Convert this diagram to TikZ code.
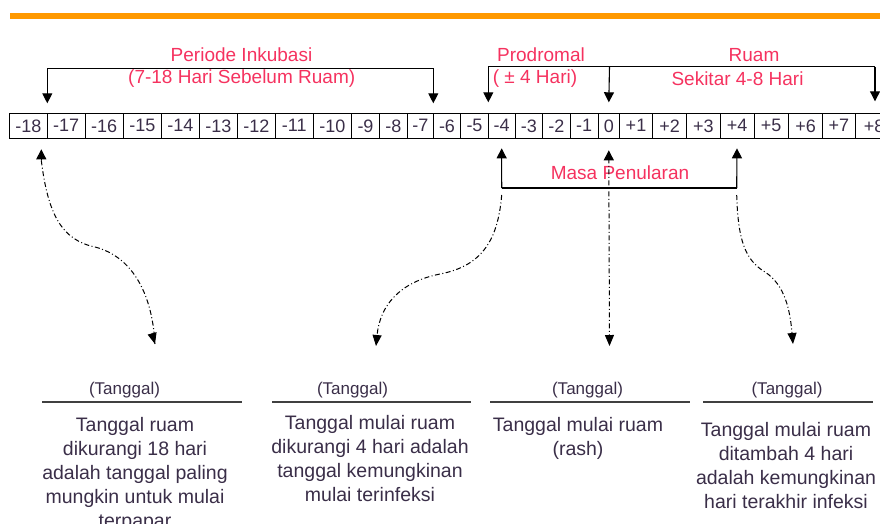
\documentclass[tikz,border=0pt]{standalone}
\usepackage{fontspec}
\setmainfont{Liberation Sans}
\usetikzlibrary{arrows.meta}
\definecolor{lblred}{HTML}{F5325F}
\definecolor{barorange}{HTML}{FF9900}
\definecolor{txt}{HTML}{3A2E48}
\tikzset{
  cellbox/.style={draw=black, line width=0.9pt, minimum height=25pt, inner sep=0pt, outer sep=0pt, text=txt, font=\fontsize{18}{18}\selectfont},
  redlbl/.style={text=lblred, inner sep=0pt, font=\fontsize{19}{19}\selectfont},
  brk/.style={draw=black, line width=1.1pt},
  arr/.style={brk, -{Triangle[width=10pt,length=10pt]}},
  dd/.style={draw=black, line width=1pt, dash pattern=on 5pt off 2.5pt on 1pt off 2.5pt},
  ddarr/.style={dd, -{Triangle[width=9pt,length=11pt]}},
  tgl/.style={text=txt, inner sep=0pt, font=\fontsize{17}{17}\selectfont},
  body/.style={text=txt, inner sep=0pt, anchor=north, align=center, font=\fontsize{19.5}{24}\selectfont},
  uline/.style={draw=black!75, line width=1.3pt},
}
\begin{document}
\begin{tikzpicture}[x=1pt,y=-1pt]
\useasboundingbox (0,0) rectangle (880,523);
% orange bar
\fill[barorange] (10,13) rectangle (890,19);
% cells
\foreach \i/\lab/\a/\b in {
 1/-18/9.3/47.3, 2/-17/47.3/85, 3/-16/85/123.3, 4/-15/123.3/161.7,
 5/-14/161.7/199.3, 6/-13/199.3/237.3, 7/-12/237.3/275.3, 8/-11/275.3/313.3,
 9/-10/313.3/351.7, 10/-9/351.7/379.3, 11/-8/379.3/407.3, 12/-7/407.3/433.3,
 13/-6/433.3/460.7, 14/-5/460.7/488.3, 15/-4/488.3/515, 16/-3/515/542.7,
 17/-2/542.7/570, 18/-1/570/598.3, 19/0/598.3/619.3, 20/+1/619.3/652.7,
 21/+2/652.7/686.7, 22/+3/686.7/720, 23/+4/720/754, 24/+5/754/788.3,
 25/+6/788.3/822.7, 26/+7/822.7/855, 27/+8/855/893}
 \node[cellbox, minimum width={(\b-\a)*1pt}] (c\i) at ({(\a+\b)/2},125.8) {\lab};
% top labels
\node[redlbl] (inkA) at (241.5,55) {Periode Inkubasi};
\node[redlbl] (inkB) at (241.7,79) {(7-18 Hari Sebelum Ruam)};
\node[redlbl] (proA) at (541,55) {Prodromal};
\node[redlbl] (proB) at (535,79) {( ± 4 Hari)};
\node[redlbl] (ruA) at (754,55) {Ruam};
\node[redlbl] (ruB) at (737.5,79) {Sekitar 4-8 Hari};
% incubation bracket
\coordinate (inkL) at (47.3,68.3);
\coordinate (inkR) at (433.3,68.3);
\draw[brk] (inkL) -- (inkR);
\draw[arr] (inkL) -- ([yshift=10pt]c1.north east);
\draw[arr] (inkR) -- ([yshift=10pt]c12.north east);
% prodromal / ruam bracket
\coordinate (proL) at (488.3,66.7);
\coordinate (proM) at (609.5,66.7);
\coordinate (proR) at (875,66.7);
\draw[brk] (proL) -- (proR);
\draw[arr] (proL) -- ([yshift=11pt]c14.north east);
\draw[arr] (proM) -- ([yshift=11pt]c19.north);
\draw[arr] (proR) -- ([yshift=12pt]c27.north -| proR);
% masa penularan bracket
\coordinate (mpL) at (501.7,188);
\coordinate (mpR) at (736.7,188);
\draw[brk] (mpL) -- (mpR);
\draw[arr] (mpL) -- ([yshift=-10pt]c15.south);
\draw[arr] (mpR) -- ([yshift=-10pt]c23.south);
\node[redlbl] (mp) at (620,173) {Masa Penularan};
% bottom labels
\node[tgl] (t1) at (124.5,390) {(Tanggal)};
\node[tgl] (t2) at (352.5,390) {(Tanggal)};
\node[tgl] (t3) at (587.5,390) {(Tanggal)};
\node[tgl] (t4) at (787,390) {(Tanggal)};
\draw[uline] (42,402) -- (242,402);
\draw[uline] (272,402) -- (471,402);
\draw[uline] (490,402) -- (690,402);
\draw[uline] (703,402) -- (873,402);
\node[body] (b1) at (135,416.7) {Tanggal ruam\\dikurangi 18 hari\\adalah tanggal paling\\mungkin untuk mulai\\terpapar};
\node[body] (b2) at (370,415) {Tanggal mulai ruam\\dikurangi 4 hari adalah\\tanggal kemungkinan\\mulai terinfeksi};
\node[body] (b3) at (578,417) {Tanggal mulai ruam\\(rash)};
\node[body] (b4) at (786,421.7) {Tanggal mulai ruam\\ditambah 4 hari\\adalah kemungkinan\\hari terakhir infeksi};
% dash-dot connectors
\coordinate (e1) at (155,344);
\coordinate (e2) at (376,346);
\coordinate (e3) at (609.5,346);
\coordinate (e4) at (793,344);
\draw[arr] ([xshift=13pt,yshift=-22pt]c1.south) -- ([xshift=13pt,yshift=-11pt]c1.south);
\draw[dd] ([xshift=13pt,yshift=-22pt]c1.south) .. controls (48,215) and (62,240) .. (95,247) .. controls (130,256) and (152,290) .. (e1);
\draw[-{Triangle[width=9pt,length=11pt]}, draw=black, line width=1pt] (152,333) -- (e1);
\draw[ddarr] (501.7,195) .. controls (498,240) and (482,266) .. (440,274) .. controls (400,282) and (380,305) .. (e2);
\draw[arr] ([yshift=-20pt]c19.south) -- ([yshift=-12pt]c19.south);
\draw[ddarr] ([yshift=-20pt]c19.south) -- (e3);
\draw[ddarr] (736.7,195) .. controls (738,240) and (745,260) .. (765,272) .. controls (785,285) and (790,310) .. (e4);
\end{tikzpicture}
\end{document}
